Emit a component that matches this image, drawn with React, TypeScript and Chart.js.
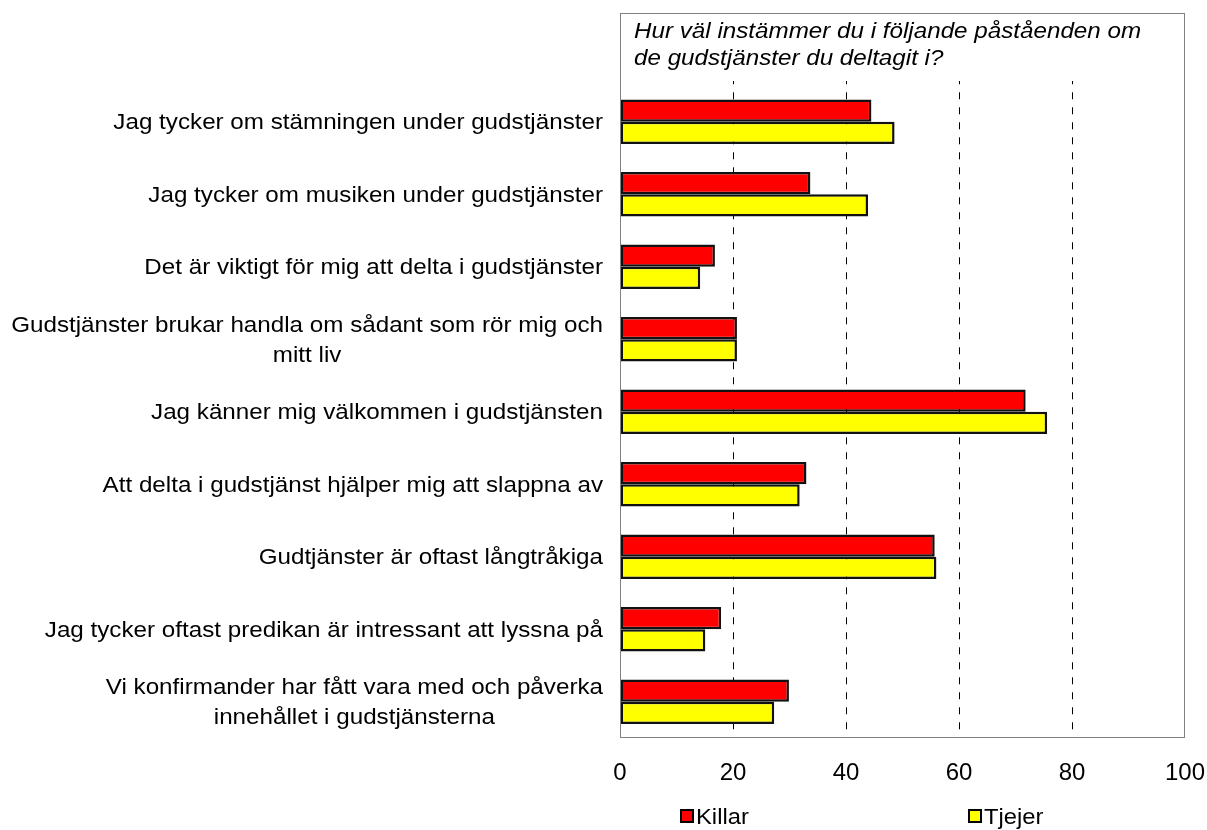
import React, { useEffect, useRef } from 'react';
import { Chart, registerables } from 'chart.js';

Chart.register(...registerables);

// ---- data ----
const categories: string[][] = [
  [],
  ['Jag tycker om stämningen under gudstjänster'],
  ['Jag tycker om musiken under gudstjänster'],
  ['Det är viktigt för mig att delta i gudstjänster'],
  ['Gudstjänster brukar handla om sådant som rör mig och', 'mitt liv'],
  ['Jag känner mig välkommen i gudstjänsten'],
  ['Att delta i gudstjänst hjälper mig att slappna av'],
  ['Gudtjänster är oftast långtråkiga'],
  ['Jag tycker oftast predikan är intressant att lyssna på'],
  ['Vi konfirmander har fått vara med och påverka', 'innehållet i gudstjänsterna'],
];
const killar: (number | null)[] = [null, 44.5, 33.7, 16.8, 20.7, 71.8, 33.0, 55.7, 17.9, 29.9];
const tjejer: (number | null)[] = [null, 48.6, 43.9, 14.2, 20.7, 75.6, 31.8, 56.0, 15.1, 27.3];
const seriesNames = ['Killar', 'Tjejer'];
const seriesColors = ['#FF0000', '#FFFF00'];
const xTicks = [0, 20, 40, 60, 80, 100];
const titleLines = ['Hur väl instämmer du i följande påståenden om', 'de gudstjänster du deltagit i?'];

const FONT = '"Liberation Sans", Arial, Helvetica, sans-serif';
const SX = 1.1;

function drawStretched(ctx: CanvasRenderingContext2D, text: string, x: number, y: number, align: CanvasTextAlign, sx: number) {
  ctx.save();
  ctx.translate(x, y);
  ctx.scale(sx, 1);
  ctx.textAlign = align;
  ctx.textBaseline = 'alphabetic';
  ctx.fillText(text, 0, 0);
  ctx.restore();
}

const decor = {
  id: 'decor',
  beforeDatasetsDraw(chart: any) {
    const { ctx, chartArea } = chart;
    ctx.save();
    ctx.fillStyle = '#FFFFFF';
    ctx.fillRect(chartArea.left + 1, chartArea.top + 3, chartArea.right - chartArea.left - 2, 65);
    ctx.restore();
  },
  afterDraw(chart: any) {
    const { ctx, chartArea } = chart;
    const { left, right, top, bottom } = chartArea;
    ctx.save();
    // frame
    ctx.strokeStyle = '#808080';
    ctx.lineWidth = 1;
    ctx.setLineDash([]);
    ctx.strokeRect(left + 0.5, top + 0.5, right - left - 1, bottom - top - 1);

    // title inside plot
    ctx.fillStyle = '#000';
    ctx.font = `italic 22px ${FONT}`;
    titleLines.forEach((line, i) => {
      drawStretched(ctx, line, left + 14, top + 24.5 + i * 27.5, 'left', SX);
    });

    // category labels
    const yScale = chart.scales.y;
    ctx.font = `22px ${FONT}`;
    const labelRight = left - 17;
    categories.forEach((lines, i) => {
      if (!lines.length) return;
      const yc = yScale.getPixelForValue(i);
      const widths = lines.map((l) => ctx.measureText(l).width * SX);
      const blockW = Math.max(...widths);
      const cx = labelRight - blockW / 2;
      const n = lines.length;
      lines.forEach((l, j) => {
        const by = yc + 7.5 + (j - (n - 1) / 2) * 30;
        drawStretched(ctx, l, cx, by, 'center', SX);
      });
    });

    // legend
    const items = [left + 61, left + 349];
    chart.data.datasets.forEach((ds: any, i: number) => {
      const bx = items[i];
      const by = 810;
      ctx.fillStyle = ds.backgroundColor;
      ctx.fillRect(bx, by, 12, 12);
      ctx.strokeStyle = '#000';
      ctx.lineWidth = 2;
      ctx.strokeRect(bx, by, 12, 12);
      ctx.fillStyle = '#000';
      ctx.font = `22px ${FONT}`;
      drawStretched(ctx, ds.label, bx + 15, 824, 'left', 1.08);
    });
    ctx.restore();
  },
};

export default function App() {
  const ref = useRef<HTMLCanvasElement | null>(null);
  useEffect(() => {
    if (!ref.current) return;
    const chart = new Chart(ref.current, {
      type: 'bar',
      data: {
        labels: categories as any,
        datasets: [
          {
            label: seriesNames[0],
            data: killar,
            backgroundColor: seriesColors[0],
            borderColor: '#111111',
            borderWidth: 2.5,
            borderSkipped: false,
            categoryPercentage: 0.614,
            barPercentage: 1,
          },
          {
            label: seriesNames[1],
            data: tjejer,
            backgroundColor: seriesColors[1],
            borderColor: '#111111',
            borderWidth: 2.5,
            borderSkipped: false,
            categoryPercentage: 0.614,
            barPercentage: 1,
          },
        ],
      },
      options: {
        indexAxis: 'y',
        responsive: false,
        maintainAspectRatio: false,
        animation: false,
        devicePixelRatio: 1,
        layout: { padding: { left: 620, right: 22, top: 13, bottom: 0 } },
        plugins: {
          legend: { display: false },
          title: { display: false },
          tooltip: { enabled: false },
        },
        scales: {
          x: {
            type: 'linear',
            position: 'bottom',
            min: 0,
            max: 100,
            afterBuildTicks: (s: any) => {
              s.ticks = xTicks.map((v) => ({ value: v }));
            },
            afterFit: (s: any) => {
              s.height = 92;
              s.paddingLeft = 0;
              s.paddingRight = 0;
            },
            grid: {
              color: (c: any) =>
                c.tick && (c.tick.value === 0 || c.tick.value === 100) ? 'rgba(0,0,0,0)' : '#000000',
              lineWidth: 1,
              drawTicks: false,
            },
            border: { display: false, dash: [7, 8], dashOffset: 10.7 },
            ticks: {
              font: { family: FONT, size: 24 },
              color: '#000000',
              padding: 21,
              maxRotation: 0,
              autoSkip: false,
            },
          },
          y: {
            type: 'category',
            display: false,
            grid: { display: false },
          },
        },
      },
      plugins: [decor],
    } as any);
    return () => chart.destroy();
  }, []);

  return (
    <div style={{ position: 'fixed', left: 0, top: 0, width: 1207, height: 830, background: '#fff' }}>
      <canvas ref={ref} width={1207} height={830} style={{ display: 'block', width: 1207, height: 830 }} />
    </div>
  );
}
